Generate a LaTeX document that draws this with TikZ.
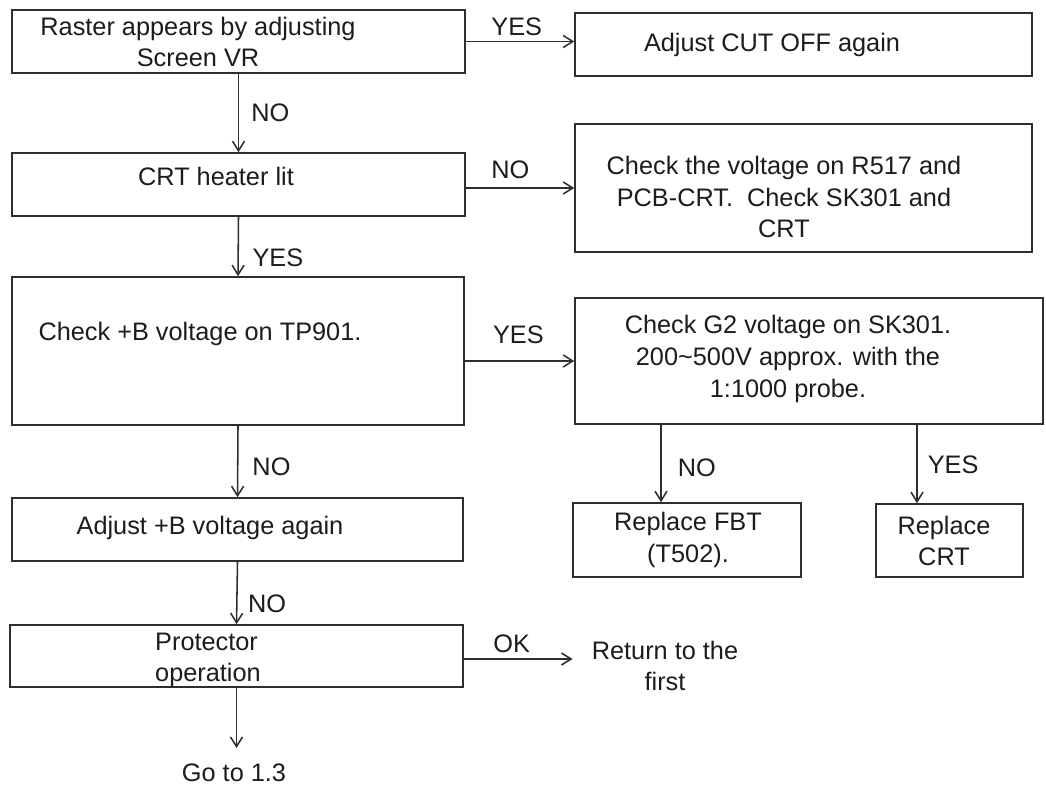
\documentclass[tikz,border=0pt]{standalone}
\usepackage{fontspec}
\setmainfont{Liberation Sans}
\usetikzlibrary{arrows.meta, calc, positioning}
\definecolor{crtink}{HTML}{1C1C1C}
\definecolor{crtline}{HTML}{2E2E2E}
\tikzset{
  flowbox/.style 2 args={
    draw=crtline,
    line width=1.1pt,
    fill=white,
    inner sep=0pt,
    minimum width=#1*0.025cm,
    minimum height=#2*0.025cm
  },
  boxtext/.style={
    font=\fontsize{18}{22.5}\selectfont,
    text=crtink,
    align=center,
    inner sep=0pt
  },
  branchlabel/.style={
    font=\fontsize{18}{22.5}\selectfont,
    text=crtink,
    inner sep=0pt
  },
  flowarrow/.style={
    -{Straight Barb[length=2.4mm,width=3mm]},
    line width=1.1pt,
    draw=crtline
  }
}

\begin{document}
\begin{tikzpicture}[x=0.025cm,y=-0.025cm]
\useasboundingbox (0,0) rectangle (1046,786);

% left column
\node[flowbox={453}{63}] (raster) at (238.5,41.5) {};
\node[flowbox={453}{63}] (heater) at (238.5,184.5) {};
\node[flowbox={452}{148}] (tpcheck) at (238,351) {};
\node[flowbox={451}{63}] (adjustb) at (237.5,529.5) {};
\node[flowbox={453}{62}] (protector) at (236.5,656) {};

% right column
\node[flowbox={457}{63}] (cutoff) at (803.5,44.5) {};
\node[flowbox={457}{128}] (heatercheck) at (803.5,188) {};
\node[flowbox={468}{126}] (gtwo) at (809,361) {};
\node[flowbox={228}{74}] (fbt) at (687,540) {};
\node[flowbox={147}{73}] (crt) at (949.5,540.5) {};

\node[boxtext] (rastertext) at (198,42) {Raster appears by adjusting\\Screen VR};
\node[boxtext] (cutofftext) at (772,45) {Adjust CUT OFF again};
\node[boxtext] (heatertext) at (216,176) {CRT heater lit};
\node[boxtext] (heaterchecktext) at (784,197)
  {Check the voltage on R517 and\\PCB-CRT.\ \ Check SK301 and\\CRT};
\node[boxtext] (tpchecktext) at (200,334) {Check +B voltage on TP901.};
\node[boxtext] (gtwotext) at (788,359)
  {Check G2 voltage on SK301.\\200\textasciitilde 500V approx. with the\\1:1000 probe.};
\node[boxtext] (adjustbtext) at (210,528) {Adjust +B voltage again};
\node[boxtext, align=left] (protectortext) at (208,660) {Protector\\operation};
\node[boxtext] (fbttext) at (688,540) {Replace FBT\\(T502).};
\node[boxtext] (crttext) at (944,541) {Replace\\CRT};
\node[boxtext] (returntext) at (665,666) {Return to the\\first};
\node[boxtext, anchor=north] (gototext) at (234,764) {Go to 1.3};

\coordinate (fbtin) at ($(fbt.north)+(-26,0)$);
\coordinate (crtin) at ($(crt.north)+(-32.5,0)$);
\coordinate (returntip) at ($(returntext.west)+(-19,-7)$);
\coordinate (gototip) at ($(gototext.north)+(0,-16)$);

\draw[flowarrow] (raster.east) -- (raster.east -| cutoff.west)
  node[branchlabel, above=0.12cm, pos=0.47] (yesone) {YES};
\draw[flowarrow] (heater.east |- heatercheck.west) -- (heatercheck.west)
  node[branchlabel, above=0.2cm, pos=0.41] (notwo) {NO};
\draw[flowarrow] (tpcheck.east |- gtwo.west) -- (gtwo.west)
  node[branchlabel, above=0.4cm, pos=0.49] (yesthree) {YES};
\draw[flowarrow] (protector.east |- returntip) -- (returntip)
  node[branchlabel, above=0.13cm, pos=0.44] (okfour) {OK};

\draw[flowarrow] (raster.south) -- (heater.north)
  node[branchlabel, right=0.3cm, pos=0.5] (noone) {NO};
\draw[flowarrow] (heater.south) -- (tpcheck.north)
  node[branchlabel, right=0.34cm, pos=0.69] (yestwo) {YES};
\draw[flowarrow] (tpcheck.south) -- (adjustb.north)
  node[branchlabel, right=0.35cm, pos=0.575] (nothree) {NO};
\draw[flowarrow] (adjustb.south) -- (protector.north)
  node[branchlabel, right=0.26cm, pos=0.67] (nofour) {NO};
\draw[flowarrow] (protector.south) -- (protector.south |- gototip);

\draw[flowarrow] (gtwo.south -| fbtin) -- (fbtin)
  node[branchlabel, right=0.4cm, pos=0.56] (nofive) {NO};
\draw[flowarrow] (gtwo.south -| crtin) -- (crtin)
  node[branchlabel, right=0.25cm, pos=0.51] (yesfive) {YES};
\end{tikzpicture}
\end{document}
